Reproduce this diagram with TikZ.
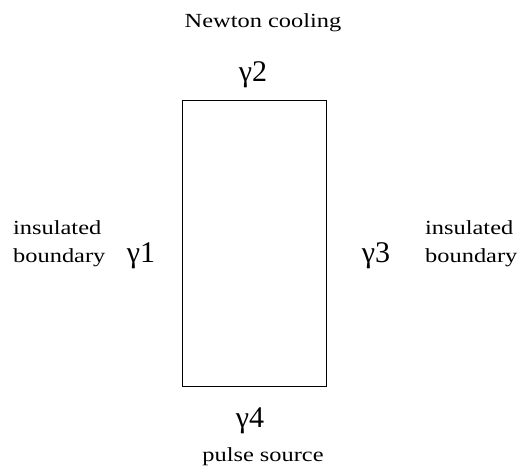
\documentclass[tikz,border=0pt]{standalone}
\usepackage{fontspec}
\setmainfont{Liberation Serif}
\newfontfamily\labelfont[FakeStretch=1.22]{Liberation Serif}
\usetikzlibrary{positioning}

\begin{document}
\begin{tikzpicture}[
    x=1pt, y=1pt,
    regionbox/.style={draw=black, line width=0.8pt},
    gammalabel/.style={anchor=base, inner sep=0pt, font=\fontsize{30}{30}\selectfont},
    condlabel/.style={anchor=base, inner sep=0pt, font=\labelfont\fontsize{20}{28}\selectfont},
    sidelabel/.style={condlabel, align=left, anchor=base west}
]
\useasboundingbox (0,0) rectangle (520,474);

% Domain
\draw[regionbox] (182,88) rectangle (326,374);

% Boundary names
\node[gammalabel] (g2) at (253,392) {γ2};
\node[gammalabel] (g1) at (141,211) {γ1};
\node[gammalabel] (g3) at (376,211) {γ3};
\node[gammalabel] (g4) at (250,46) {γ4};

% Boundary conditions
\node[condlabel] (top) at (263,446) {Newton cooling};
\node[condlabel] (bottom) at (263,12) {pulse source};
\node[sidelabel] (left) at (13,211) {insulated\\boundary};
\node[sidelabel] (right) at (425,211) {insulated\\boundary};

\end{tikzpicture}
\end{document}
